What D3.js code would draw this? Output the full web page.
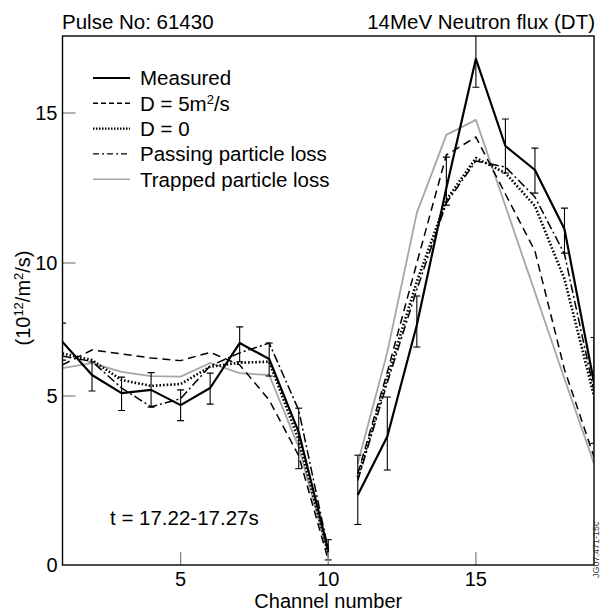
<!DOCTYPE html>
<html>
<head>
<meta charset="utf-8">
<script src="https://cdn.jsdelivr.net/npm/d3@7"></script>
<style>
html,body{margin:0;padding:0;background:#fff;}
svg{display:block;font-family:"Liberation Sans",Arial,sans-serif;}
</style>
</head>
<body>
<svg id="chart" width="600" height="615"></svg>
<script>
// ---- data ----
const channels = [1,2,3,4,5,6,7,8,9,10,11,12,13,14,15,16,17,18,19];
const measured   = [7.03,5.79,5.11,5.23,4.73,5.30,6.99,6.39,3.93,0.44, 2.07,3.80,7.67,12.5,16.83,13.9,13.1,11.13,5.5];
const measuredLo = [6.35,5.19,4.57,4.67,4.27,4.76,6.29,5.75,2.85,0.15, 1.20,2.81,6.84,11.93,15.87,13.0,12.33,10.33,3.6];
const measuredHi = [7.74,6.28,5.71,5.88,5.23,5.86,7.60,6.99,4.64,0.75, 3.25,4.97,8.76,13.53,18.0,14.8,13.83,11.83,7.2];
const dD5      = [6.17,6.73,6.58,6.43,6.33,6.64,6.17,4.88,3.23,0.15, 2.7,5.9,10.0,13.6,14.2,12.3,10.4,6.0,3.2];
const dD0      = [6.6,6.35,5.6,5.38,5.45,6.1,6.25,6.29,3.7,0.35, 2.6,5.7,9.3,12.1,13.5,13.0,11.9,9.4,5.0];
const passing  = [6.5,6.3,5.3,4.68,4.92,6.13,6.62,6.99,4.58,0.45, 2.5,5.5,9.0,12.0,13.4,13.2,12.2,10.3,5.2];
const trapped  = [6.05,6.24,5.91,5.75,5.73,6.24,5.86,5.79,3.49,0.30, 3.0,6.65,11.67,14.27,14.77,11.9,8.9,5.65,3.0];
const segments = [[1,10],[11,19]];
const xTicks = [5,10,15];
const yTicks = [0,5,10,15];
const legendLabels = ["Measured","D = 5m\u00B2/s","D = 0","Passing particle loss","Trapped particle loss"];

// ---- layout ----
const svg = d3.select("#chart");
const L = 62.5, R = 594, T = 36, B = 565;
const x = d3.scaleLinear().domain([1,19]).range([L,R]);
// axis of the original figure is not uniform between labelled ticks
const y = d3.scaleLinear().domain([0,5,10,15,17.6]).range([B,396,263,113,T]);

svg.append("defs").append("clipPath").attr("id","clip")
  .append("rect").attr("x",L).attr("y",T).attr("width",R-L).attr("height",B-T);

const styles = {
  measured:{stroke:"#000", width:2.2, dash:null},
  d5:{stroke:"#000", width:1.5, dash:"8,5"},
  d0:{stroke:"#000", width:2.6, dash:"1.6,2"},
  pass:{stroke:"#000", width:1.5, dash:"9,3,2,3"},
  trap:{stroke:"#a6a6a6", width:1.8, dash:null}
};
const seriesList = [
  {key:"trap", vals:trapped},
  {key:"d5", vals:dD5},
  {key:"pass", vals:passing},
  {key:"d0", vals:dD0},
  {key:"measured", vals:measured}
];

const plot = svg.append("g").attr("clip-path","url(#clip)");
const line = d3.line().x(d=>x(d[0])).y(d=>y(d[1]));

seriesList.forEach(s=>{
  const st = styles[s.key];
  segments.forEach(([a,b])=>{
    const pts = channels.map((c,i)=>[c,s.vals[i]]).filter(p=>p[0]>=a && p[0]<=b);
    plot.append("path").attr("d",line(pts)).attr("fill","none")
      .attr("stroke",st.stroke).attr("stroke-width",st.width)
      .attr("stroke-dasharray",st.dash).attr("stroke-linejoin","round");
  });
});

// error bars
const eb = plot.append("g").attr("stroke","#000").attr("stroke-width",1.1);
channels.forEach((c,i)=>{
  const cx = x(c);
  eb.append("line").attr("x1",cx).attr("x2",cx).attr("y1",y(measuredLo[i])).attr("y2",y(measuredHi[i]));
  [measuredLo[i],measuredHi[i]].forEach(v=>{
    eb.append("line").attr("x1",cx-3.5).attr("x2",cx+3.5).attr("y1",y(v)).attr("y2",y(v));
  });
});

// ticks (inward, grey)
const tk = svg.append("g").attr("stroke","#888").attr("stroke-width",1.3);
yTicks.forEach(v=>{ if(v>0) tk.append("line").attr("x1",L).attr("x2",L+13).attr("y1",y(v)).attr("y2",y(v)); });
xTicks.forEach(v=>{ tk.append("line").attr("x1",x(v)).attr("x2",x(v)).attr("y1",B).attr("y2",B-13); });

// frame
svg.append("rect").attr("x",L).attr("y",T).attr("width",R-L).attr("height",B-T)
  .attr("fill","none").attr("stroke","#000").attr("stroke-width",1.4);

// tick labels
svg.append("g").selectAll("text").data(yTicks).join("text")
  .attr("x",L-5).attr("y",d=>y(d)).attr("dy","0.36em").attr("text-anchor","end")
  .attr("font-size",20).text(d=>d);
svg.append("g").selectAll("text").data(xTicks).join("text")
  .attr("x",d=>x(d)).attr("y",586).attr("text-anchor","middle")
  .attr("font-size",20).text(d=>d);

// axis titles
svg.append("text").attr("x",(L+R)/2).attr("y",608).attr("text-anchor","middle")
  .attr("font-size",20).text("Channel number");
const yl = svg.append("text").attr("transform","translate(30,298) rotate(-90)")
  .attr("text-anchor","middle").attr("font-size",20);
yl.append("tspan").text("(10");
yl.append("tspan").attr("font-size",13).attr("dy",-7).text("12");
yl.append("tspan").attr("dy",7).text("/m");
yl.append("tspan").attr("font-size",13).attr("dy",-7).text("2");
yl.append("tspan").attr("dy",7).text("/s)");

// header texts
svg.append("text").attr("x",62).attr("y",29).attr("font-size",20.5).text("Pulse No: 61430");
svg.append("text").attr("x",595).attr("y",29).attr("text-anchor","end").attr("font-size",20.5).text("14MeV Neutron flux (DT)");

// time annotation
svg.append("text").attr("x",110).attr("y",525).attr("font-size",20.5).text("t = 17.22-17.27s");

// legend
const legKeys = ["measured","d5","d0","pass","trap"];
const lg = svg.append("g");
legKeys.forEach((k,i)=>{
  const yy = 78 + i*25.3;
  const st = styles[k];
  lg.append("line").attr("x1",93).attr("x2",130).attr("y1",yy).attr("y2",yy)
    .attr("stroke",st.stroke).attr("stroke-width",k==="d0"?2.4:(k==="measured"?2:1.4))
    .attr("stroke-dasharray",k==="d5"?"5,3":(k==="pass"?"6,3,2,3":(k==="d0"?"1.5,1.5":null)));
  const t = lg.append("text").attr("x",140).attr("y",yy).attr("dy","0.36em").attr("font-size",20.5);
  if(k==="d5"){
    t.append("tspan").text("D = 5m");
    t.append("tspan").attr("font-size",13).attr("dy",-7).text("2");
    t.append("tspan").attr("dy",7).text("/s");
  } else t.text(legendLabels[i]);
});

// figure id
svg.append("text").attr("transform","translate(599,578) rotate(-90)")
  .attr("font-size",9).attr("fill","#333").text("JG07.471-15c");
</script>
</body>
</html>
